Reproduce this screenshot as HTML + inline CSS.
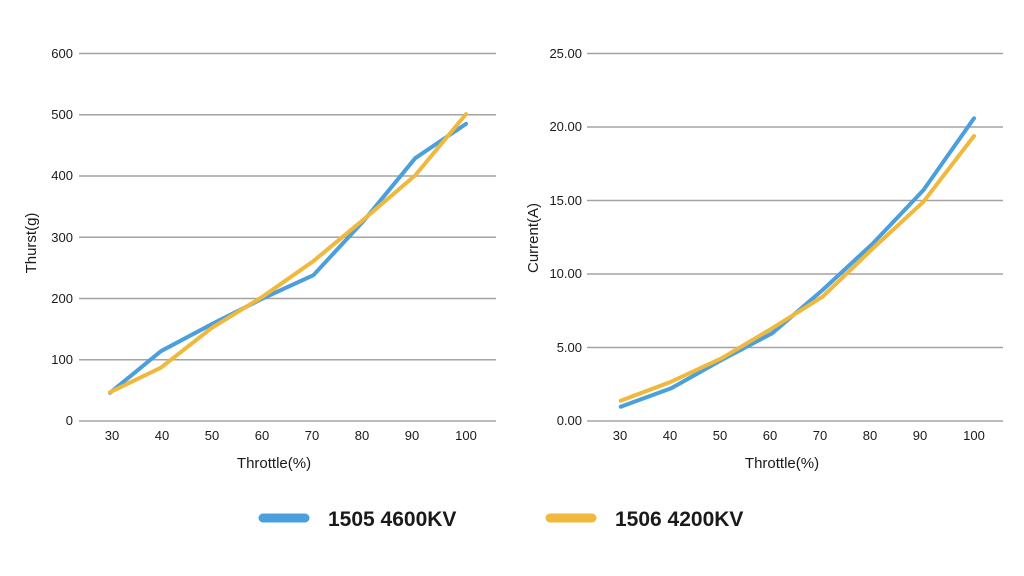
<!DOCTYPE html>
<html><head><meta charset="utf-8"><style>
html,body{margin:0;padding:0;background:#fff;}
svg{display:block;}
text{font-family:"Liberation Sans",sans-serif;fill:#1a1a1a;}
</style></head><body>
<svg width="1024" height="576" viewBox="0 0 1024 576" xmlns="http://www.w3.org/2000/svg">
<rect width="1024" height="576" fill="#fff"/>
<g stroke="#a3a3a3" stroke-width="1.5">
<line x1="79" y1="53.5" x2="496" y2="53.5"/>
<line x1="79" y1="114.75" x2="496" y2="114.75"/>
<line x1="79" y1="176" x2="496" y2="176"/>
<line x1="79" y1="237.25" x2="496" y2="237.25"/>
<line x1="79" y1="298.5" x2="496" y2="298.5"/>
<line x1="79" y1="359.75" x2="496" y2="359.75"/>
<line x1="79" y1="421" x2="496" y2="421"/>
<line x1="587" y1="53.5" x2="1003" y2="53.5"/>
<line x1="587" y1="127" x2="1003" y2="127"/>
<line x1="587" y1="200.5" x2="1003" y2="200.5"/>
<line x1="587" y1="274" x2="1003" y2="274"/>
<line x1="587" y1="347.5" x2="1003" y2="347.5"/>
<line x1="587" y1="421" x2="1003" y2="421"/>
</g>
<g font-size="13" text-anchor="end">
<text x="73" y="58">600</text>
<text x="73" y="119">500</text>
<text x="73" y="180">400</text>
<text x="73" y="242">300</text>
<text x="73" y="303">200</text>
<text x="73" y="364">100</text>
<text x="73" y="425">0</text>
<text x="582" y="58">25.00</text>
<text x="582" y="131">20.00</text>
<text x="582" y="205">15.00</text>
<text x="582" y="278">10.00</text>
<text x="582" y="352">5.00</text>
<text x="582" y="425">0.00</text>
</g>
<g font-size="13" text-anchor="middle">
<text x="112" y="440">30</text>
<text x="162" y="440">40</text>
<text x="212" y="440">50</text>
<text x="262" y="440">60</text>
<text x="312" y="440">70</text>
<text x="362" y="440">80</text>
<text x="412" y="440">90</text>
<text x="466" y="440">100</text>
<text x="620" y="440">30</text>
<text x="670" y="440">40</text>
<text x="720" y="440">50</text>
<text x="770" y="440">60</text>
<text x="820" y="440">70</text>
<text x="870" y="440">80</text>
<text x="920" y="440">90</text>
<text x="974" y="440">100</text>
</g>
<g font-size="15" text-anchor="middle">
<text x="274" y="468">Throttle(%)</text>
<text x="782" y="468">Throttle(%)</text>
<text transform="translate(36,243) rotate(-90)">Thurst(g)</text>
<text transform="translate(538,238) rotate(-90)">Current(A)</text>
</g>
<g fill="none" stroke-width="4" stroke-linecap="round" stroke-linejoin="round">
<polyline stroke="#4a9fdc" points="110,392.8 160.9,351.2 211.7,324.2 262.6,298.5 313.4,275.2 364.3,220.1 415.2,158.2 466,123.9"/>
<polyline stroke="#f0b83c" points="110,392.2 160.9,367.7 211.7,327.9 262.6,296.7 313.4,261.1 364.3,218.9 415.2,175.4 466,114.1"/>
<polyline stroke="#4a9fdc" points="620.7,406.7 671.2,388.3 721.6,360 772.1,333.3 822.6,290 873,243.3 923.5,190 974,118.3"/>
<polyline stroke="#f0b83c" points="620.7,400.7 671.2,381.7 721.6,358.3 772.1,328.3 822.6,296.7 873,248.3 923.5,201.7 974,136"/>
</g>
<line x1="263" y1="518" x2="305" y2="518" stroke="#4a9fdc" stroke-width="9" stroke-linecap="round"/>
<line x1="550" y1="518" x2="592" y2="518" stroke="#f0b83c" stroke-width="9" stroke-linecap="round"/>
<g font-size="21" font-weight="bold">
<text x="328" y="526">1505 4600KV</text>
<text x="615" y="526">1506 4200KV</text>
</g>
</svg>
</body></html>
